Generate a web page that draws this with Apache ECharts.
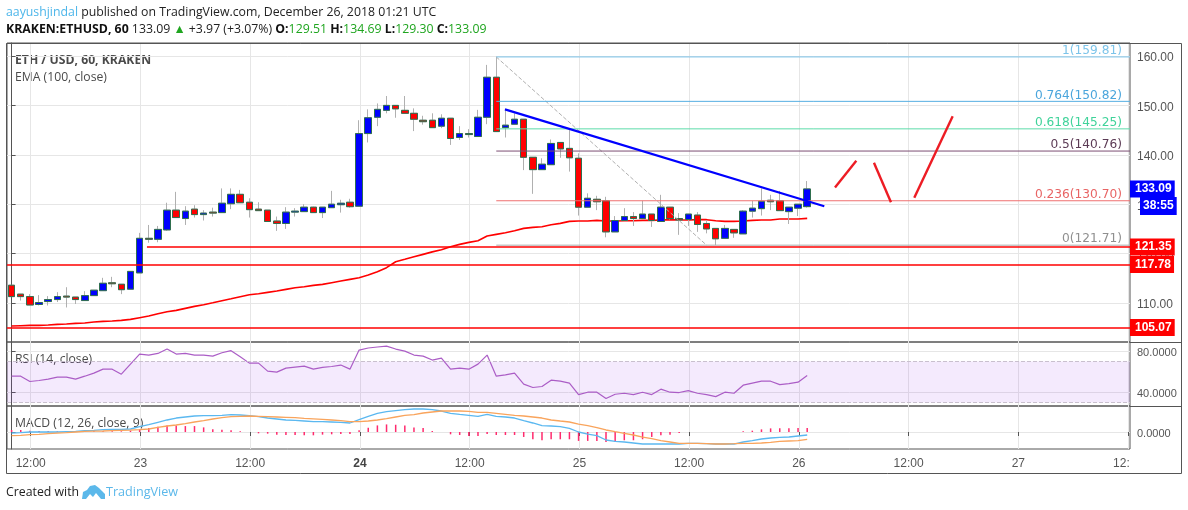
<!DOCTYPE html>
<html>
<head>
<meta charset="utf-8">
<style>html,body{margin:0;padding:0;background:#fff}#chart{width:1188px;height:510px}</style>
<script src="https://cdn.jsdelivr.net/npm/echarts@6/dist/echarts.min.js"></script>
</head>
<body>
<div id="chart"></div>
<script>
// hourly candles, first one is Dec 22 10:00
var opens = [113.6,111.8,111.3,109.7,110.3,110.7,111.4,111.2,110.5,111.5,112.5,114.1,113.8,112.8,116.1,123.1,122.9,124.8,128.8,127.1,129,127.9,128.4,128.3,130.1,132,130.4,129,128.8,126.6,126.1,128.4,128.5,129.4,128.3,129.3,129.9,130.4,129.6,144.3,147.6,149,150,149,148.4,147,147,145.8,147.4,143.5,144.3,143.7,147.6,155.7,145.5,146.2,147.2,139.5,137,138,142.5,141.3,139.3,129.4,131,130.7,124.4,126.7,127.5,127.1,128,126.5,129.4,127.1,126.9,127.8,126.1,125.1,123.1,124.9,124,128.6,129.1,130.8,130.7,128.5,129.2,129.51];
var closes = [111.3,111.3,109.6,110.1,110.7,111.3,111.2,110.7,111.5,112.6,114,113.9,112.7,116.4,123.1,122.9,124.9,128.8,127.3,128.6,127.9,128.2,128.2,130.2,132,130.3,128.9,128.7,126.5,126.1,128.4,128.6,129.4,128.3,129.4,130,130.2,129.5,144.3,147.5,149.2,150,149.3,148.4,147.2,146.7,145.5,147.4,143.3,144.3,144.1,147.6,155.7,144.7,146,147.2,139.5,137,138.1,142.3,141.2,139.4,129.4,131.2,130.5,124.4,126.7,127.5,127.1,128,126.7,129.4,127.1,126.8,128,125.9,125,123,125.1,124.2,128.6,129.2,130.6,130.5,128.7,129.4,130,133.09];
var lows = [111.3,110.5,109.6,109.5,109.5,110.2,109.1,109.8,110.5,111.5,112.5,113.2,111.8,112.8,116.1,122.2,122.3,124.6,127.3,125.8,127.3,126.7,127.5,128.3,129,130.3,127.3,128.7,126.5,124.6,125,127.5,128.5,128.3,127.2,129.3,128.3,129.3,129.6,142.5,145.8,148.4,147.5,148.4,144.8,146.1,145.5,145.4,142,143,143.5,143.7,146.2,144.7,143.5,146.2,136.9,132.1,137,138,139.4,136.6,127.7,129.4,128.8,123.3,124.4,126.7,125.6,127.1,125.4,126.5,126.9,123.8,125.6,124.4,124.1,121.71,123.1,123.2,124,127.3,127.7,128.8,128.7,126,127.6,129.3];
var highs = [113.6,111.8,111.8,111.6,111.4,112.2,113.2,111.2,112.4,112.6,115.1,115.3,113.8,116.4,124.2,125.8,125.6,130.3,132.5,129.6,129.8,128.8,129.3,133.2,133.2,132.9,131.2,130.4,128.8,127.5,129.4,129.2,130,129.5,129.4,132.7,130.9,131.1,147,149.2,150.4,151.9,150,151.9,149.4,147.9,148.4,148.2,147.4,145.8,145.2,149.1,158.2,159.81,149.1,148.4,147.2,139.5,139.3,143.1,142.5,145,140.3,132.2,131.7,131.5,127.6,129.2,128.4,130.7,128,131.9,129.4,128.2,128,128.4,126.8,125.1,125.8,124.9,128.8,130.7,133.2,131.9,132.7,129.4,130,134.69];
var ema = [105.34,105.41,105.48,105.48,105.54,105.68,105.75,105.88,105.95,106.15,106.29,106.35,106.49,106.69,107.03,107.37,107.84,108.24,108.51,108.92,109.32,109.66,110.06,110.47,110.87,111.28,111.68,111.89,112.16,112.42,112.76,113.1,113.3,113.57,113.77,114.11,114.45,114.79,115.13,115.66,116.34,117.15,118.36,118.85,119.35,119.85,120.35,120.8,121.4,121.87,122.28,122.61,123.56,123.9,124.23,124.64,125.11,125.31,125.45,125.85,126.12,126.53,126.59,126.6,126.73,126.6,126.6,126.66,126.66,126.73,126.73,126.8,126.87,126.8,126.8,126.87,126.87,126.66,126.53,126.53,126.6,126.73,126.8,126.8,127,127,127,127.14];
var rsi = [55.7,55.7,50.5,51.5,52.8,54.8,54.8,52.8,55.7,58.7,62.6,62.6,57.7,67.5,77.4,76.4,78,82.3,77.4,78,76.4,76.4,75.4,78.7,80.7,74.8,68.5,68.5,60.7,59.7,63.6,64.6,65.6,62.6,64.3,65.2,66.6,62.6,81.3,83.3,84.3,85.2,82.3,80.3,76.4,75.4,71.5,73.4,62.6,63.6,62.6,67.5,76.4,55.7,57,58.7,47.9,44.6,45.6,51.8,50.8,48.9,37.7,40,40,33.8,38,39,37.7,40,37.7,43,40,39.7,41.6,39,37.7,35.7,40,39,46.9,48.9,50.8,50.8,47.5,48.5,49.8,56.4];
var macd = [-0.3,-0.2,0,0,0,0,0.1,0.2,0.4,0.5,0.71,0.81,0.81,0.91,1.62,2.22,2.93,3.64,4.24,4.55,4.85,4.95,4.95,5.05,5.25,5.15,4.95,4.65,4.24,3.94,3.64,3.54,3.33,3.13,3.13,3.03,2.93,2.73,3.74,4.75,5.66,6.16,6.46,6.77,6.97,6.97,6.77,6.36,5.66,5.35,5.05,4.75,5.35,4.75,4.55,4.24,3.43,2.73,1.92,1.82,1.62,1.11,0,-0.61,-1.11,-2.42,-2.83,-3.03,-3.33,-3.64,-3.64,-3.64,-3.64,-3.64,-3.43,-3.43,-3.54,-3.64,-3.64,-3.64,-3.03,-2.63,-2.12,-1.82,-1.62,-1.52,-1.21,-0.91];
var signal = [-1.11,-1.01,-0.81,-0.71,-0.51,-0.35,-0.2,0,0.2,0.25,0.3,0.4,0.5,0.56,0.71,0.91,1.41,1.82,2.12,2.53,3.03,3.43,3.94,4.34,4.65,4.75,4.85,4.75,4.65,4.55,4.44,4.34,4.14,3.99,3.84,3.64,3.43,3.13,3.13,3.33,3.64,4.04,4.55,5.05,5.25,5.76,6.06,6.36,6.36,6.36,6.26,5.96,5.96,5.66,5.35,5.05,4.85,4.55,4.24,3.64,3.33,3.03,2.42,1.92,1.31,0.61,0.1,-0.4,-0.91,-1.52,-2.02,-2.63,-3.03,-3.43,-3.43,-3.43,-3.54,-3.64,-3.64,-3.54,-3.43,-3.43,-3.33,-3.13,-2.83,-2.73,-2.63,-2.22];
var hist = [0.6,0.6,0.4,0.3,0.3,0.2,0.2,0.2,0.2,0.2,0.2,0.2,0.2,0.4,0.8,1.2,1.6,2,2,1.8,1.8,1.4,0.8,0.7,0.5,0.2,0,-0.4,-0.5,-0.8,-0.9,-0.9,-1,-1,-0.8,-0.7,-0.6,-0.6,0.5,1.3,2,2.3,2.2,2,1.4,1.2,0.3,0,-0.7,-0.9,-1.2,-1.2,-0.6,-0.9,-0.9,-0.9,-1.5,-2.2,-2.5,-2.2,-2.2,-2.2,-2.7,-2.7,-2.7,-3,-3,-2.5,-2.5,-2.2,-1.5,-1,-0.8,-0.3,0,0,0,0,0,0,0.2,0.4,0.8,1.1,1.1,1.1,1.2,1.2];

// time ticks in bars from the first candle
var timeTicks = [2.09,14.09,26.09,38.09,50.09,62.09,74.09,86.09,98.09,110.09,122.09];
var timeLabels = ['12:00','23','12:00','{b|24}','12:00','25','12:00','26','12:00','27','12:{h|00}'];
var priceTicks = [110,120,130,140,150,160];
var rsiTicks = [40,80];
var macdTicks = [0];

var fibLevels = ['1','0.764','0.618','0.5','0.236','0'];
var fibPrices = [159.81,150.82,145.25,140.76,130.70,121.71];
var fibColors = ['#7cc4ea','#55aee2','#5ddcaa','#7d4f74','#ef6f6f','#aaaaaa'];
var fibLabelColors = ['#7cc4ea','#4aa5dc','#3fd39a','#5b3a54','#e86464','#8f8f8f'];
var supports = [121.35,117.78,105.07];
var supportStart = [14.8,-0.5,-0.5];

// drawn lines
var trendX = [53.95,88.87];
var trendY = [149.2,129.6];
var fibDiagX = [53,76];
var fibDiagY = [159.81,121.71];
var arrowsX = [[90.04,92.37],[94.3,96.16],[98.71,102.91]];
var arrowsY = [[133.4,138.8],[138.4,130.4],[131.3,147.8]];

var xMin = -0.503, xMax = 122.3;

var wicks = [], bodies = [];
for (var j = 0; j < opens.length; j++) {
  wicks.push([j, opens[j], closes[j], lows[j], highs[j]]);
  bodies.push([j, opens[j], closes[j], Math.min(opens[j], closes[j]), Math.max(opens[j], closes[j])]);
}
function pairs(xs, ys) {
  return xs.map(function (x, k) { return [x, ys[k]]; });
}
function byBar(values) {
  return values.map(function (v, k) { return [k, v]; });
}

var axisFont = 'Liberation Sans';
var priceGrey = '#555555';

function xAxisFor(index, showLabels) {
  return {
    type: 'value', gridIndex: index, min: xMin, max: xMax, scale: true,
    axisLine: { show: false },
    axisTick: { show: showLabels, length: 4, customValues: timeTicks, lineStyle: { color: '#555' } },
    axisLabel: {
      show: showLabels, customValues: timeTicks, hideOverlap: false, color: priceGrey,
      fontFamily: axisFont, fontSize: 12, margin: 9,
      formatter: function (v) { return timeLabels[timeTicks.indexOf(v)]; },
      rich: {
        b: { fontWeight: 'bold', color: '#444', fontFamily: axisFont, fontSize: 12 },
        h: { color: 'rgba(0,0,0,0)', fontFamily: axisFont, fontSize: 12 }
      }
    },
    splitLine: { show: true, lineStyle: { color: '#e6e6e6', width: 1 } }
  };
}
function yAxisFor(index, min, max, ticks, digits, fontSize) {
  return {
    type: 'value', gridIndex: index, position: 'right', min: min, max: max, scale: true,
    axisLine: { show: true, lineStyle: { color: '#555' } },
    axisTick: { show: true, length: 4, customValues: ticks, lineStyle: { color: '#555' } },
    axisLabel: {
      color: priceGrey, fontFamily: axisFont, fontSize: fontSize, margin: 7, customValues: ticks,
      verticalAlign: 'top', lineHeight: 4,
      formatter: function (v) { return v.toFixed(digits); }
    },
    splitLine: { show: true, lineStyle: { color: '#e6e6e6', width: 1 } }
  };
}

function priceTag(text, color) {
  return {
    show: true, position: 'end', distance: 0, formatter: text, color: '#fff',
    backgroundColor: color, fontFamily: axisFont, fontWeight: 'bold', fontSize: 12,
    padding: [3, 3, 2, 5]
  };
}

// fib levels: the line is a plain series, the markLine only carries the text
var fibSeries = fibPrices.map(function (p, k) {
  return {
    type: 'line', name: 'fib' + fibLevels[k], xAxisIndex: 0, yAxisIndex: 0,
    data: [[53, p], [xMax, p]], symbol: 'none', z: 5,
    lineStyle: { color: fibColors[k], width: 1, type: 'solid' },
    markLine: {
      silent: true, symbol: 'none', animation: false, z: 5,
      lineStyle: { color: 'rgba(0,0,0,0)', width: 0 },
      data: [[{
        coord: [53, p],
        label: {
          show: true, position: 'insideEndTop', distance: [8, 0], formatter: fibLevels[k] + '(' + p.toFixed(2) + ')',
          color: fibLabelColors[k], fontFamily: 'DejaVu Sans', fontSize: 12.2
        }
      }, { coord: [xMax, p] }]]
    }
  };
});
var supportLines = supports.map(function (p, k) {
  return [{ coord: [supportStart[k], p], label: priceTag(p.toFixed(2), '#ff0000') }, { coord: [xMax, p] }];
});

var option = {
  animation: false,
  backgroundColor: '#fff',
  grid: [
    { left: 7, width: 1123, top: 43, height: 299, show: true, borderColor: '#555', borderWidth: 1 },
    { left: 7, width: 1123, top: 342, height: 64, show: true, borderColor: '#555', borderWidth: 1 },
    { left: 7, width: 1123, top: 406, height: 43, show: true, borderColor: '#555', borderWidth: 1 }
  ],
  xAxis: [xAxisFor(0, false), xAxisFor(1, false), xAxisFor(2, true)],
  yAxis: [
    yAxisFor(0, 102.11, 162.63, priceTicks, 2, 12),
    yAxisFor(1, 26.5, 89.2, rsiTicks, 4, 11),
    yAxisFor(2, -5.15, 7.88, macdTicks, 4, 11)
  ],
  series: [
    {
      type: 'line', name: 'EMA', xAxisIndex: 0, yAxisIndex: 0, data: byBar(ema), symbol: 'none', z: 2,
      lineStyle: { color: '#ff0000', width: 1.6 }
    },
    {
      type: 'candlestick', name: 'wicks', xAxisIndex: 0, yAxisIndex: 0, data: wicks, barWidth: 7, z: 3,
      itemStyle: { color: '#0000ff', color0: '#ff0000', borderColor: '#b0b0b0', borderColor0: '#b0b0b0', borderWidth: 1 }
    },
    {
      type: 'candlestick', name: 'ETHUSD', xAxisIndex: 0, yAxisIndex: 0, data: bodies, barWidth: 7, z: 4,
      itemStyle: { color: '#0000ff', color0: '#ff0000', borderColor: '#2f6f4f', borderColor0: '#2f6f4f', borderWidth: 1 }
    },
    {
      type: 'line', name: 'fibDiagonal', xAxisIndex: 0, yAxisIndex: 0, data: pairs(fibDiagX, fibDiagY), symbol: 'none', z: 5,
      lineStyle: { color: '#b0b0b0', width: 1, type: 'dashed' }
    }
  ].concat(fibSeries).concat([
    {
      type: 'line', name: 'support', xAxisIndex: 0, yAxisIndex: 0, data: [], symbol: 'none', z: 6,
      markLine: {
        silent: true, symbol: 'none', animation: false, z: 6,
        lineStyle: { color: '#ff0000', width: 1.5, type: 'solid' },
        data: supportLines
      }
    },
    {
      type: 'line', name: 'last', xAxisIndex: 0, yAxisIndex: 0, data: [], symbol: 'none', z: 7,
      markLine: {
        silent: true, symbol: 'none', animation: false, z: 7,
        lineStyle: { color: 'rgba(0,0,0,0)', width: 0 },
        data: [[{
          coord: [xMax - 0.1, closes[closes.length - 1]],
          label: priceTag('133.09', '#0000ff')
        }, { coord: [xMax, closes[closes.length - 1]] }]]
      }
    },
    {
      type: 'line', name: 'trend', xAxisIndex: 0, yAxisIndex: 0, data: pairs(trendX, trendY), symbol: 'none', z: 8,
      lineStyle: { color: '#0000ff', width: 2.2 }
    }
  ]).concat(arrowsX.map(function (xs, k) {
    return {
      type: 'line', name: 'arrow' + k, xAxisIndex: 0, yAxisIndex: 0, data: pairs(xs, arrowsY[k]), symbol: 'none', z: 8,
      lineStyle: { color: '#ed1c24', width: 2.4 }
    };
  })).concat([
    {
      type: 'line', name: 'RSI', xAxisIndex: 1, yAxisIndex: 1, data: byBar(rsi), symbol: 'none', z: 4,
      lineStyle: { color: '#ab5dc6', width: 1.2 },
      markArea: {
        silent: true, animation: false,
        itemStyle: { color: 'rgba(155,60,235,0.11)' },
        data: [[{ yAxis: 70 }, { yAxis: 30 }]]
      },
      markLine: {
        silent: true, symbol: 'none', animation: false, label: { show: false },
        lineStyle: { color: '#c9c0ce', width: 1, type: 'dashed' },
        data: [{ yAxis: 70 }, { yAxis: 30 }]
      }
    },
    {
      type: 'bar', name: 'Histogram', xAxisIndex: 2, yAxisIndex: 2, data: byBar(hist), barWidth: 1.5, z: 3,
      itemStyle: { color: '#ff2a6d' }
    },
    {
      type: 'line', name: 'MACD', xAxisIndex: 2, yAxisIndex: 2, data: byBar(macd), symbol: 'none', z: 4,
      lineStyle: { color: '#5bb8f0', width: 1.3 }
    },
    {
      type: 'line', name: 'Signal', xAxisIndex: 2, yAxisIndex: 2, data: byBar(signal), symbol: 'none', z: 5,
      lineStyle: { color: '#f9a45c', width: 1.3 }
    }
  ]),
  graphic: [
    { type: 'rect', silent: true, z: 1, shape: { x: 6.5, y: 43.5, width: 1175, height: 430 }, style: { fill: 'none', stroke: '#555', lineWidth: 1 } },
    { type: 'line', silent: true, z: 1, shape: { x1: 1130, y1: 342.5, x2: 1181, y2: 342.5 }, style: { stroke: '#555', lineWidth: 1 } },
    { type: 'line', silent: true, z: 1, shape: { x1: 1130, y1: 406.5, x2: 1181, y2: 406.5 }, style: { stroke: '#555', lineWidth: 1 } },
    {
      type: 'text', silent: true,
      style: {
        x: 6, y: 12.5, verticalAlign: 'middle', font: '12.3px "Open Sans"', fill: '#222',
        text: '{a|aayushjindal} published on TradingView.com, December 26, 2018 01:21 UTC',
        rich: { a: { fill: '#4db6ea', font: '12.3px "Open Sans"' } }
      }
    },
    {
      type: 'text', silent: true,
      style: {
        x: 6, y: 29.5, verticalAlign: 'middle', font: '12.3px "Open Sans"', fill: '#222',
        text: '{b|KRAKEN:ETHUSD, 60} 133.09 {g|▲} +3.97 (+3.07%) {b|O:}{g|129.51} {b|H:}{g|134.69} {b|L:}{g|129.30} {b|C:}{g|133.09}',
        rich: {
          b: { font: 'bold 12.3px "Open Sans"', fill: '#111' },
          g: { font: '12.3px "Open Sans"', fill: '#1fa51f' }
        }
      }
    },
    { type: 'text', silent: true, style: { x: 15, y: 61, verticalAlign: 'middle', text: 'ETH / USD, 60, KRAKEN', font: 'bold 12.2px "Open Sans"', fill: '#4a4a4a' } },
    { type: 'text', silent: true, style: { x: 15, y: 77.5, verticalAlign: 'middle', text: 'EMA (100, close)', font: '12.2px "Open Sans"', fill: '#4a4a4a' } },
    { type: 'text', silent: true, style: { x: 15, y: 360, verticalAlign: 'middle', text: 'RSI (14, close)', font: '12.2px "Open Sans"', fill: '#4a4a4a' } },
    { type: 'text', silent: true, style: { x: 15, y: 424, verticalAlign: 'middle', text: 'MACD (12, 26, close, 9)', font: '12.2px "Open Sans"', fill: '#4a4a4a' } },
    {
      type: 'text', silent: true, z: 20,
      style: { x: 1140, y: 206, verticalAlign: 'middle', text: '38:55', font: 'bold 12px "Liberation Sans"', fill: '#fff', backgroundColor: '#0000ff', padding: [3, 3, 3, 3] }
    },
    { type: 'text', silent: true, style: { x: 6, y: 492, verticalAlign: 'middle', text: 'Created with', font: '12.3px "Open Sans"', fill: '#222' } },
    {
      type: 'polygon', silent: true,
      shape: { points: [[82,499],[83,492],[87,490],[90,486],[95,485],[99,488],[102,491],[105,494],[105,499],[101,499],[96,493],[93,497],[90,494],[86,499]] },
      style: { fill: '#5bb8ea' }
    },
    { type: 'text', silent: true, style: { x: 106, y: 492, verticalAlign: 'middle', text: 'TradingView', font: '12.6px "Open Sans"', fill: '#5bb8ea' } }
  ]
};

var myChart = echarts.init(document.getElementById('chart'));
myChart.setOption(option);
</script>
</body>
</html>
